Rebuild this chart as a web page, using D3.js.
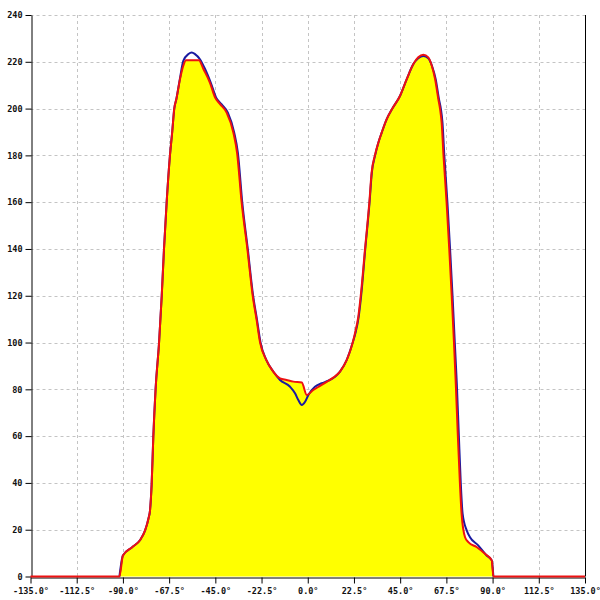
<!DOCTYPE html>
<html>
<head>
<meta charset="utf-8">
<script src="https://cdn.jsdelivr.net/npm/d3@7"></script>
<style>
  html, body { margin: 0; padding: 0; background: #fff; }
  svg { display: block; }
</style>
</head>
<body>
<svg id="chart" width="600" height="600"></svg>
<script>
// ---- data ----
const xTicks = [-135, -112.5, -90, -67.5, -45, -22.5, 0, 22.5, 45, 67.5, 90, 112.5, 135];
const xTickLabels = ["-135.0°", "-112.5°", "-90.0°", "-67.5°", "-45.0°", "-22.5°", "0.0°", "22.5°", "45.0°", "67.5°", "90.0°", "112.5°", "135.0°"];
const yTicks = [0, 20, 40, 60, 80, 100, 120, 140, 160, 180, 200, 220, 240];

// red series (angle, value)
const redAngles = [-135, -91.7, -90.0, -85.5, -81.7, -79.2, -77.5, -76.8, -76.0, -75.2, -74.1, -72.4, -71.1, -70.0, -68.7, -67.1, -66.0, -65.0, -64.0, -62.2, -60.6, -59.3, -53.0, -50.8, -47.6, -45.1, -42.7, -39.5, -36.2, -34.4, -32.2, -29.4, -26.8, -24.9, -23.2, -20.2, -16.8, -13.5, -10.3, -7.0, -2.9, -0.5, 2.7, 6.0, 9.2, 12.4, 15.7, 19.0, 21.9, 23.0, 24.6, 25.8, 27.9, 30.0, 31.1, 32.7, 34.4, 36.0, 38.4, 41.2, 44.9, 48.2, 51.4, 53.8, 56.3, 58.7, 60.4, 62.0, 63.6, 64.4, 65.2, 66.1, 67.6, 68.9, 70.1, 71.2, 72.1, 73.0, 74.1, 74.9, 76.6, 78.2, 82.2, 86.3, 89.6, 90.4, 135];
const redValues = [0, 0, 9, 12.5, 15.5, 19.7, 25, 28.3, 39.7, 59.7, 80, 100, 120, 140, 160, 180, 190, 200, 204, 212.6, 218.3, 220.7, 220.7, 216.9, 211, 204.7, 201.9, 198.3, 189.7, 181, 160, 140, 120, 109.7, 100, 92.6, 87.6, 84.7, 84, 83.3, 82.9, 77.6, 79.7, 81.5, 83.2, 85, 87.6, 92.6, 100, 104, 111, 120, 140, 160, 172.6, 180, 185.5, 189.7, 195.4, 200, 205.4, 212.6, 219, 221.9, 223, 221.9, 218.3, 212.6, 204, 200, 194, 180, 160, 140, 120, 100, 82, 62, 39.7, 26.9, 16.8, 14.7, 12.6, 9.7, 6.9, 0, 0];

// blue series (angle, value)
const blueAngles = [-91.7, -90.0, -85.5, -81.7, -79.2, -77.5, -76.8, -76.0, -75.2, -74.1, -72.4, -71.1, -70.0, -68.7, -67.1, -66.0, -65.0, -64.0, -62.2, -60.6, -58.1, -56.5, -54.9, -52.5, -50.0, -47.2, -44.6, -42.0, -38.9, -35.8, -34.0, -31.9, -29.2, -26.6, -24.7, -23.0, -20.2, -16.8, -13.5, -8.6, -6.2, -4.6, -2.9, -1.3, 0.3, 3.5, 6.8, 10.0, 13.3, 15.7, 19.0, 21.9, 23.2, 24.8, 26.0, 28.0, 30.1, 31.2, 32.8, 34.4, 36.0, 38.4, 41.2, 44.9, 48.2, 51.4, 53.8, 56.3, 58.7, 60.6, 62.3, 63.9, 64.8, 65.6, 66.5, 68.0, 69.3, 70.5, 71.6, 72.6, 73.5, 74.5, 75.4, 77.4, 79.0, 83.0, 87.1, 89.6, 90.4];
const blueValues = [0, 9, 12.5, 15.5, 19.7, 25, 28.3, 39.7, 59.7, 80, 100, 120, 140, 160, 180, 190, 200, 204, 213, 220.4, 223.3, 224, 223.3, 221.1, 216.9, 211, 204.7, 201.9, 198.3, 189.7, 181, 160, 140, 120, 109.7, 100, 92.6, 87.6, 84, 81.1, 78.3, 75.4, 73.3, 74.7, 77.6, 81.1, 82.6, 83.7, 85.4, 87.6, 92.6, 100, 104, 111, 120, 140, 160, 172.6, 180, 185.5, 189.7, 195.4, 200, 205.4, 212.6, 219, 221.5, 222.5, 221.5, 218, 212.6, 204, 200, 194, 180, 160, 140, 120, 100, 82, 62, 40, 26.9, 19.7, 16.8, 13.3, 9, 6.9, 0];

// ---- chart ----
const svg = d3.select("#chart");
const x = d3.scaleLinear().domain([-135, 135]).range([30.5, 585]);
const y = d3.scaleLinear().domain([0, 240]).range([576.5, 15]);

const red = redAngles.map((a, i) => [a, redValues[i]]);
const blue = blueAngles.map((a, i) => [a, blueValues[i]]);

const grid = svg.append("g").attr("stroke", "#c4c4c4").attr("stroke-width", 1).attr("stroke-dasharray", "3,3");
grid.selectAll("line.h").data(yTicks.filter(d => d > 0)).join("line")
  .attr("x1", x(-135)).attr("x2", x(135))
  .attr("y1", d => Math.round(y(d)) + 0.5).attr("y2", d => Math.round(y(d)) + 0.5);
grid.selectAll("line.v").data(xTicks.filter(d => d > -135 && d < 135)).join("line")
  .attr("x1", d => Math.round(x(d)) + 0.5).attr("x2", d => Math.round(x(d)) + 0.5)
  .attr("y1", y(240)).attr("y2", y(0));

const curve = d3.curveMonotoneX;
const area = d3.area().x(d => x(d[0])).y0(y(0)).y1(d => y(d[1])).curve(curve);
svg.append("path").datum(red).attr("d", area).attr("fill", "#ffff00");

const fontFam = "'DejaVu Sans Mono', monospace";

const xAxis = svg.append("g").attr("transform", `translate(0,${Math.round(y(0)) + 0.5})`)
  .call(d3.axisBottom(x).tickValues(xTicks).tickSize(6).tickPadding(4).tickSizeOuter(0)
    .tickFormat((d, i) => xTickLabels[i]));
xAxis.select(".domain").attr("stroke", "#000");
xAxis.selectAll(".tick line").attr("stroke", "#000");
xAxis.selectAll("text").attr("font-family", fontFam).attr("font-size", 8.5).attr("font-weight", "bold").attr("fill", "#111");

const yAxis = svg.append("g").attr("transform", `translate(${Math.round(x(-135)) + 0.5},0)`)
  .call(d3.axisLeft(y).tickValues(yTicks).tickSize(6).tickPadding(3).tickSizeOuter(0).tickFormat(d => d));
yAxis.select(".domain").attr("stroke", "#000");
yAxis.selectAll(".tick line").attr("stroke", "#000");
yAxis.selectAll("text").attr("font-family", fontFam).attr("font-size", 8.5).attr("font-weight", "bold").attr("fill", "#111");

// right border line
svg.append("line")
  .attr("x1", Math.round(x(135)) + 0.5).attr("x2", Math.round(x(135)) + 0.5)
  .attr("y1", y(240)).attr("y2", y(0)).attr("stroke", "#000");

const line = d3.line().x(d => x(d[0])).y(d => y(d[1])).curve(curve);
svg.append("path").datum(blue).attr("d", line).attr("fill", "none").attr("stroke", "#1a1aa0").attr("stroke-width", 2);
svg.append("path").datum(red).attr("d", line).attr("fill", "none").attr("stroke", "#ee1111").attr("stroke-width", 2);
</script>
</body>
</html>
